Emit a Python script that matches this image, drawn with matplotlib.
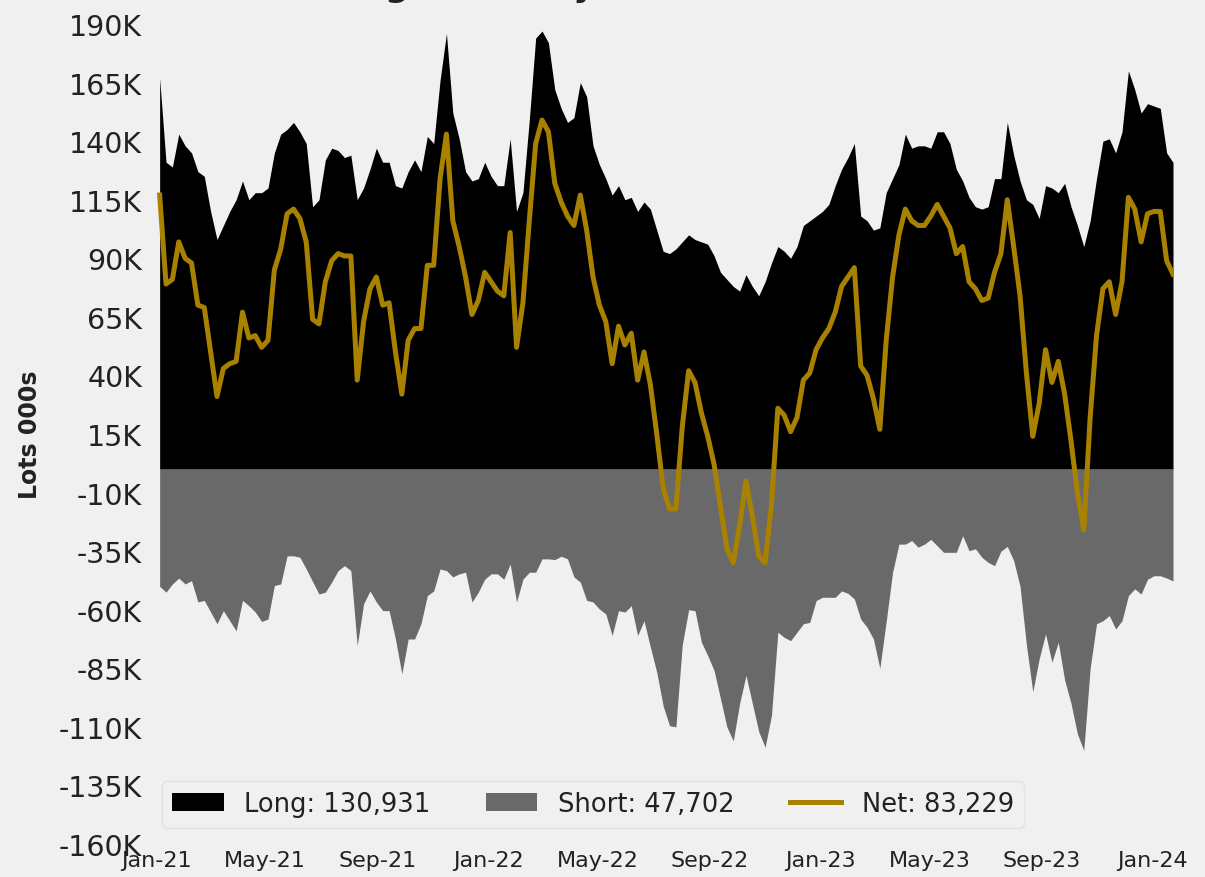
import numpy as np
import pandas as pd
import matplotlib
matplotlib.use("Agg")
import matplotlib.pyplot as plt
from matplotlib.ticker import FuncFormatter
import matplotlib.dates as mdates

# weekly report dates (Tuesdays)
dates = pd.date_range("2021-01-05", periods=160, freq="7D")

# positions in thousands of lots
long_k = [
    167, 131, 129, 143, 138, 135, 127, 125, 110, 98,
    104, 110, 115, 123, 115, 118, 118, 120, 135, 143,
    145, 148, 144, 139, 112, 115, 132, 137, 136, 133,
    134, 115, 120, 128, 137, 131, 131, 121, 120, 127,
    132, 127, 142, 139, 166, 186, 152, 141, 127, 123,
    124, 131, 125, 121, 121, 141, 110, 118, 149, 184,
    187, 182, 162, 154, 148, 150, 165, 159, 138, 130,
    124, 117, 121, 115, 116, 110, 114, 111, 102, 93,
    92, 94, 97, 100, 98, 97, 96, 91, 84, 81,
    78, 76, 83, 78, 74, 80, 88, 95, 93, 90,
    95, 104, 106, 108, 110, 113, 121, 128, 133, 139,
    108, 106, 102, 103, 118, 124, 130, 143, 137, 138,
    138, 137, 144, 144, 139, 128, 123, 116, 112, 111,
    112, 124, 124, 148, 134, 123, 115, 113, 107, 121,
    120, 118, 122, 112, 104, 95, 106, 124, 140, 141,
    135, 144, 170, 162, 152, 156, 155, 154, 135, 130.931,
]

short_k = [
    50, 52.5, 49, 46.5, 49, 47.6, 56.7, 56, 61, 66,
    60.4, 64.7, 69, 56, 58.3, 61, 65, 64, 49.7, 49,
    37, 37, 37.6, 42.6, 48, 53.3, 52.5, 48.2, 43.3, 41.2,
    43.3, 75.3, 57.5, 52, 56.7, 60.4, 60.4, 72.5, 87.4, 72.5,
    72.5, 66, 54, 52, 42.6, 43.3, 46, 44.7, 44, 56.7,
    52.5, 47, 44.7, 44.7, 47, 40.5, 56.7, 47, 44, 44,
    38.3, 38.3, 38.6, 37.2, 38.3, 46, 48.2, 56, 56.7, 59.7,
    61.8, 71, 60.4, 61, 58.3, 71, 64.7, 76, 86.7, 101,
    109.5, 110, 75, 60, 60.4, 73.8, 79.6, 86, 98, 110,
    116, 100, 88, 100, 112, 118.7, 105, 69.6, 71.8, 73.2,
    69.6, 66, 65.4, 56.1, 54.7, 54.7, 54.7, 52, 53, 55.4,
    64, 67.5, 72.5, 85, 65, 44, 32, 32, 30.5, 33.3,
    32, 30, 32.7, 35.5, 35.5, 35.5, 28.4, 34.8, 34, 37.6,
    39.8, 41.2, 35, 33, 39, 50, 75, 95, 81, 70.3,
    82.4, 73.9, 90, 100, 113, 120, 85, 66, 64.7, 62.5,
    68.2, 64.7, 54, 51.1, 53.3, 47, 45.5, 45.5, 46.5, 47.702,
]

net_k = [
    117, 79, 81, 97, 90, 88, 70, 69, 50, 31,
    43, 45, 46, 67, 56, 57, 52, 55, 85, 94,
    109, 111, 107, 97, 64, 62, 80, 89, 92, 91,
    91, 38, 63, 77, 82, 70, 71, 50, 32, 55,
    60, 60, 87, 87, 124, 143, 106, 95, 82, 66,
    72, 84, 80, 76, 74, 101, 52, 71, 106, 139,
    149, 144, 122, 114, 108, 104, 117, 102, 82, 70,
    63, 45, 61, 53, 58, 38, 50, 36, 15, -8,
    -17, -17, 18, 42, 37, 24, 14, 2, -16, -34,
    -40, -24, -5, -20, -37, -40, -15, 26, 23, 16,
    22, 38, 41, 51, 56, 60, 67, 78, 82, 86,
    44, 40, 30, 17, 55, 82, 100, 111, 106, 104,
    104, 108, 113, 108, 103, 92, 95, 80, 77, 72,
    73, 84, 92, 115, 95, 74, 41, 14, 28, 51,
    37, 46, 32, 12, -10, -26, 22, 57, 77, 80,
    66, 80, 116, 111, 97, 109, 110, 110, 89, 83.229,
]

bg = "#f0f0f0"
gold = "#a98100"

fig = plt.figure(figsize=(12.05, 8.78), dpi=100, facecolor=bg)
ax = fig.add_axes([156 / 1205, 33 / 878, 1017 / 1205, 820 / 878], facecolor=bg)

long_arr = np.array(long_k)
short_arr = np.array(short_k)

ax.fill_between(dates, 0, long_arr, color="black", linewidth=0,
                label=f"Long: {long_k[-1] * 1000:,.0f}")
ax.fill_between(dates, -short_arr, 0, color="#696969", linewidth=0,
                label=f"Short: {short_k[-1] * 1000:,.0f}")
ax.plot(dates, net_k, color=gold, linewidth=3.6,
        label=f"Net: {net_k[-1] * 1000:,.0f}")

ax.set_xlim(pd.Timestamp("2021-01-01"), dates[-1])
ax.set_ylim(-160, 190)
ax.set_yticks(np.arange(-160, 191, 25))
ax.yaxis.set_major_formatter(FuncFormatter(lambda v, p: f"{int(round(v))}K"))

ax.xaxis.set_major_locator(mdates.MonthLocator(bymonth=[1, 5, 9]))
ax.xaxis.set_major_formatter(mdates.DateFormatter("%b-%y"))

for s in ax.spines.values():
    s.set_visible(False)
ax.tick_params(axis="both", length=0, colors="#222222")
ax.tick_params(axis="y", labelsize=20.5, pad=10)
ax.tick_params(axis="x", labelsize=16, pad=4)

ax.set_ylabel("Lots 000s", fontsize=17, fontweight="bold", color="#222222")
ax.yaxis.set_label_coords(-0.112, 0.5)

leg = ax.legend(loc="lower left", bbox_to_anchor=(0.006, 0.02), ncol=3,
                fontsize=18.5, frameon=True, fancybox=True, borderaxespad=0,
                handlelength=2.0, columnspacing=2.15)
leg.get_frame().set_facecolor(bg)
leg.get_frame().set_edgecolor("#e2e2e2")
leg.get_frame().set_alpha(1)
for t in leg.get_texts():
    t.set_color("#222222")

# title sits mostly above the visible canvas, only descenders show
fig.text(182 / 1205, 1 + 4 / 878, "Gold Managed Money (Lots)", fontsize=24.5,
         fontweight="bold", ha="left", va="baseline", color="#222222")

fig.savefig("out.png", dpi=100, facecolor=bg)
